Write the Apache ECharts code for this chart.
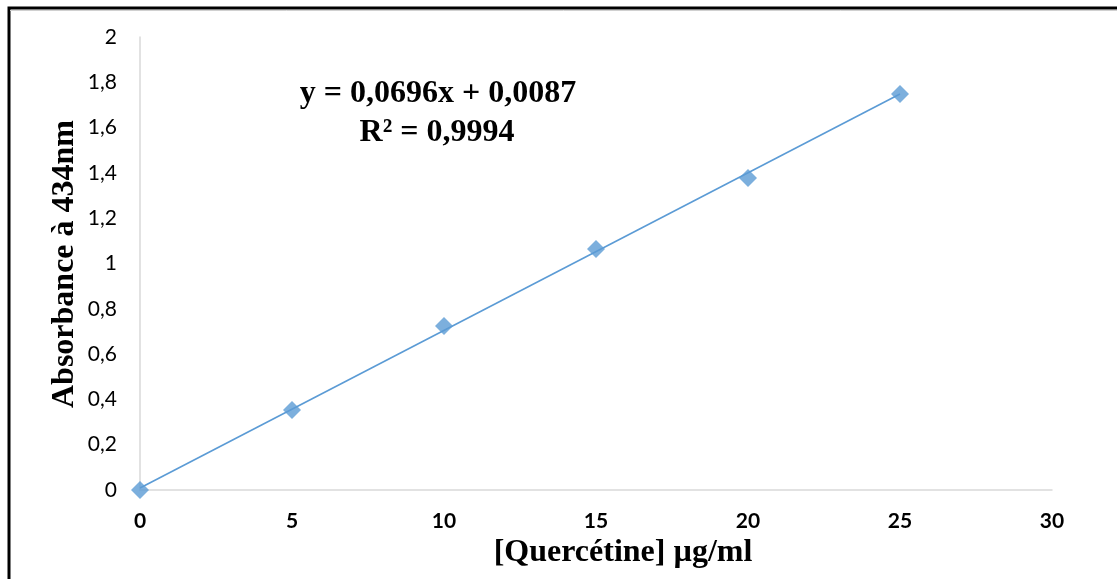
<!DOCTYPE html>
<html>
<head>
<meta charset="utf-8">
<script src="https://cdn.jsdelivr.net/npm/echarts@6/dist/echarts.min.js"></script>
<style>html,body{margin:0;padding:0;background:#fff;}#c{width:1117px;height:579px;}</style>
</head>
<body>
<div id="c"></div>
<script>
// Data
const concentrations = [0, 5, 10, 15, 20, 25];
const absorbance = [0, 0.353, 0.724, 1.064, 1.377, 1.748];
// Trendline endpoints (from the displayed equation y = 0,0696x + 0,0087)
const trendX = [0, 25];
const trendY = [0.0087, 1.7487];
const equationText = 'y = 0,0696x + 0,0087';
const r2Text = 'R² = 0,9994';
const xTitle = '[Quercétine] µg/ml';
const yTitle = 'Absorbance à 434nm';

const chart = echarts.init(document.getElementById('c'));
const blue = '#5b9bd5';
chart.setOption({
  animation: false,
  backgroundColor: '#fff',
  grid: { left: 140, right: 65, top: 37, bottom: 89 },
  xAxis: {
    type: 'value', min: 0, max: 30, interval: 5,
    axisLine: { show: true, lineStyle: { color: '#d9d9d9', width: 1.5 } },
    axisTick: { show: false },
    splitLine: { show: false },
    axisLabel: { margin: 21, fontFamily: 'Lato', fontWeight: 'bold', fontSize: 21, color: '#000' }
  },
  yAxis: {
    type: 'value', min: 0, max: 2, interval: 0.2,
    axisLine: { show: true, lineStyle: { color: '#d9d9d9', width: 1.5 } },
    axisTick: { show: false },
    splitLine: { show: false },
    axisLabel: {
      margin: 23, fontFamily: 'Lato', fontSize: 21, color: '#000',
      formatter: v => String(Math.round(v * 10) / 10).replace('.', ',')
    }
  },
  series: [
    {
      type: 'line', data: trendX.map((x, i) => [x, trendY[i]]),
      symbol: 'none', lineStyle: { color: blue, width: 1.6 }, z: 2
    },
    {
      type: 'scatter', data: concentrations.map((x, i) => [x, absorbance[i]]),
      symbol: 'diamond', symbolSize: [18, 18], itemStyle: { color: blue }, z: 3
    }
  ],
  graphic: [
    { type: 'rect', shape: { x: 9, y: 8, width: 1200, height: 700 }, style: { fill: 'none', stroke: '#000', lineWidth: 3 }, silent: true },
    { type: 'line', shape: { x1: 10, y1: 10.5, x2: 1117, y2: 10.5 }, style: { stroke: '#d0d0d0', lineWidth: 1 }, silent: true },
    { type: 'text', x: 438, y: 94, style: { text: equationText, font: 'bold 32px "Liberation Serif"', fill: '#000', textAlign: 'center', textVerticalAlign: 'middle' } },
    { type: 'text', x: 437, y: 133, style: { text: r2Text, font: 'bold 32px "Liberation Serif"', fill: '#000', textAlign: 'center', textVerticalAlign: 'middle' } },
    { type: 'text', x: 623, y: 553, style: { text: xTitle, font: 'bold 32px "Liberation Serif"', fill: '#000', textAlign: 'center', textVerticalAlign: 'middle' } },
    { type: 'text', x: 65, y: 264, rotation: Math.PI / 2, style: { text: yTitle, font: 'bold 32px "Liberation Serif"', fill: '#000', textAlign: 'center', textVerticalAlign: 'middle' } }
  ]
});
</script>
</body>
</html>
